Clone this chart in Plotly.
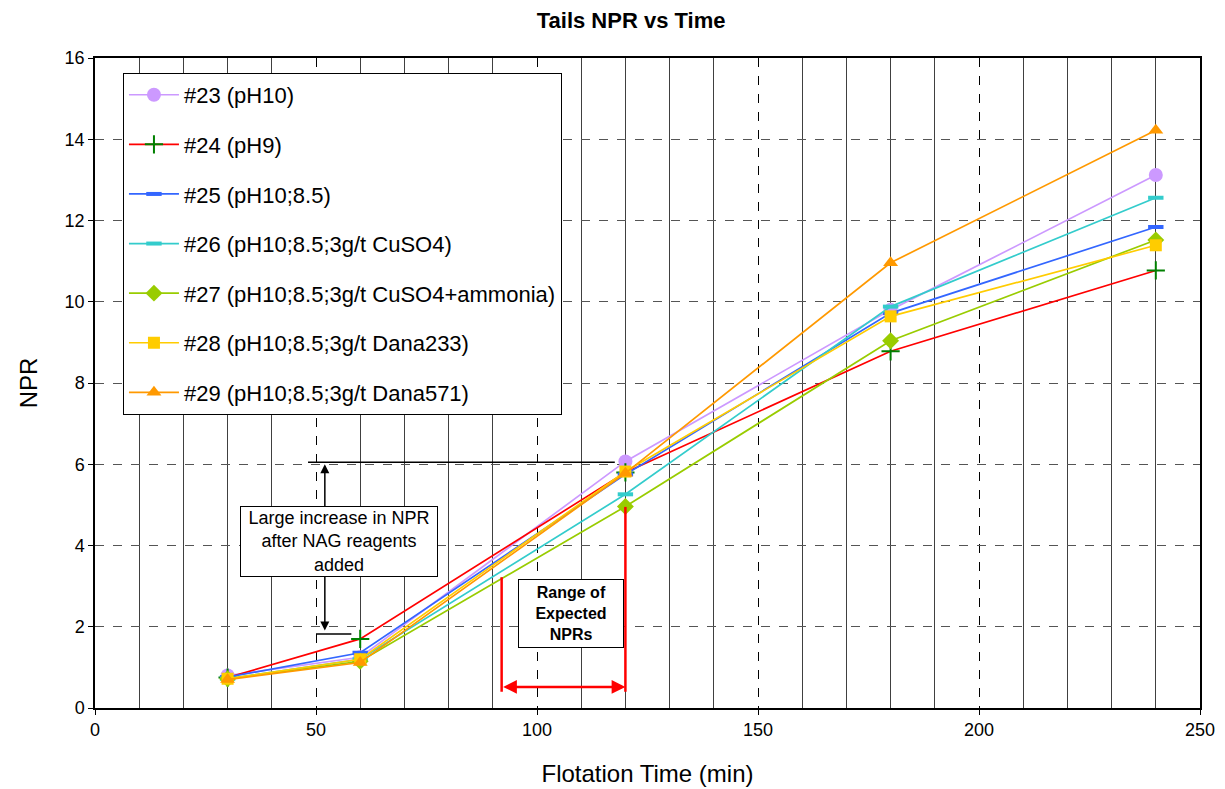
import plotly.graph_objects as go

times = [30, 60, 120, 180, 240]
series_names = [
    "#23 (pH10)",
    "#24 (pH9)",
    "#25 (pH10;8.5)",
    "#26 (pH10;8.5;3g/t CuSO4)",
    "#27 (pH10;8.5;3g/t CuSO4+ammonia)",
    "#28 (pH10;8.5;3g/t Dana233)",
    "#29 (pH10;8.5;3g/t Dana571)",
]
npr_23 = [0.80, 1.25, 6.07, 9.80, 13.12]
npr_24 = [0.75, 1.70, 5.80, 8.78, 10.77]
npr_25 = [0.76, 1.36, 5.75, 9.72, 11.84]
npr_26 = [0.72, 1.20, 5.26, 9.88, 12.56]
npr_27 = [0.72, 1.15, 4.96, 9.04, 11.52]
npr_28 = [0.72, 1.20, 5.82, 9.64, 11.39]
npr_29 = [0.70, 1.12, 5.78, 10.96, 14.22]
series_values = [npr_23, npr_24, npr_25, npr_26, npr_27, npr_28, npr_29]

line_colors = ["#CC99FF", "#FF0000", "#3366FF", "#33CCCC", "#99CC00", "#FFCC00", "#FF9900"]
marker_colors = ["#CC99FF", "#008000", "#3366FF", "#33CCCC", "#99CC00", "#FFCC00", "#FF9900"]
marker_symbols = ["circle", "cross-thin", "line-ew", "line-ew", "diamond", "square", "triangle-up"]
marker_sizes = [14, 13, 11, 11, 13, 12, 13]

FONT = "Liberation Sans, Arial, sans-serif"

fig = go.Figure()
for i, (name, vals) in enumerate(zip(series_names, series_values)):
    sym = marker_symbols[i]
    if sym in ("line-ew", "cross-thin"):
        mk = dict(symbol=sym, size=marker_sizes[i], color=marker_colors[i],
                  line=dict(color=marker_colors[i], width=4 if sym == "line-ew" else 2))
    else:
        mk = dict(symbol=sym, size=marker_sizes[i], color=marker_colors[i],
                  line=dict(width=0))
    fig.add_trace(go.Scatter(
        x=times, y=vals, name=name, mode="lines+markers",
        line=dict(color=line_colors[i], width=1.7),
        marker=mk, legendgroup=f"g{i}",
    ))

# annotation geometry (data coords)
bracket_top = 6.05
bracket_bottom = 1.82
bracket_x = 52
range_low_x = 92
range_high_x = 120

shapes = [
    dict(type="line", xref="x", yref="y", x0=48.2, x1=117.6, y0=bracket_top, y1=bracket_top,
         line=dict(color="black", width=1.5)),
    dict(type="line", xref="x", yref="y", x0=50, x1=58, y0=bracket_bottom, y1=bracket_bottom,
         line=dict(color="black", width=1.5)),
    dict(type="line", xref="x", yref="y", x0=range_low_x, x1=range_low_x, y0=0.4, y1=3.22,
         line=dict(color="#FF0000", width=2.5)),
    dict(type="line", xref="x", yref="y", x0=range_high_x, x1=range_high_x, y0=0.4, y1=4.95,
         line=dict(color="#FF0000", width=2.5)),
]

annotations = [
    dict(x=bracket_x, y=bracket_top - 0.05, ax=bracket_x, ay=bracket_bottom + 0.05,
         xref="x", yref="y", axref="x", ayref="y", text="", showarrow=True,
         arrowhead=2, arrowside="end+start", arrowsize=1.2, arrowwidth=1.5, arrowcolor="black"),
    dict(x=range_high_x, y=0.52, ax=range_low_x, ay=0.52,
         xref="x", yref="y", axref="x", ayref="y", text="", showarrow=True,
         arrowhead=2, arrowside="end+start", arrowsize=1.1, arrowwidth=2.5, arrowcolor="#FF0000"),
    dict(x=55.2, y=4.11, xref="x", yref="y", showarrow=False,
         text="Large increase in NPR<br>after NAG reagents<br>added",
         font=dict(family=FONT, size=18, color="black"),
         bgcolor="white", bordercolor="black", borderwidth=1, borderpad=1, width=194),
    dict(x=107.6, y=2.33, xref="x", yref="y", showarrow=False,
         text="<b>Range of<br>Expected<br>NPRs</b>",
         font=dict(family=FONT, size=16, color="black"),
         bgcolor="white", bordercolor="black", borderwidth=1, borderpad=4, width=96),
]

fig.update_layout(
    width=1217, height=781,
    paper_bgcolor="white", plot_bgcolor="white",
    margin=dict(l=87, r=25, t=50, b=81),
    title=dict(text="<b>Tails NPR vs Time</b>", x=0.512, xref="container", xanchor="center",
               y=1 - 12 / 781, yref="container", yanchor="middle",
               font=dict(family=FONT, size=22, color="black")),
    font=dict(family=FONT, color="black"),
    shapes=shapes, annotations=annotations,
    legend=dict(x=0.0253, y=0.977, xanchor="left", yanchor="top",
                bgcolor="white", bordercolor="black", borderwidth=1,
                font=dict(family=FONT, size=22, color="black"),
                tracegroupgap=18, itemwidth=50),
    showlegend=True,
)
fig.update_xaxes(
    range=[0, 250], dtick=50, tick0=0, automargin=False,
    title=dict(text="Flotation Time (min)", font=dict(family=FONT, size=24), standoff=26),
    tickfont=dict(family=FONT, size=18),
    showline=True, linecolor="black", linewidth=1.5, mirror=True,
    ticks="outside", ticklen=5, tickcolor="black",
    showgrid=True, gridcolor="black", griddash="dash", gridwidth=1,
    minor=dict(dtick=10, showgrid=True, gridcolor="#404040", gridwidth=1, griddash="solid", ticks=""),
    zeroline=False,
)
fig.update_yaxes(
    range=[0, 16], dtick=2, tick0=0, automargin=False,
    title=dict(text="NPR", font=dict(family=FONT, size=24), standoff=20),
    tickfont=dict(family=FONT, size=18),
    showline=True, linecolor="black", linewidth=1.5, mirror=True,
    ticks="outside", ticklen=5, tickcolor="black",
    showgrid=True, gridcolor="#555555", griddash="dash", gridwidth=1,
    zeroline=False,
)

fig.write_html("out.html")
